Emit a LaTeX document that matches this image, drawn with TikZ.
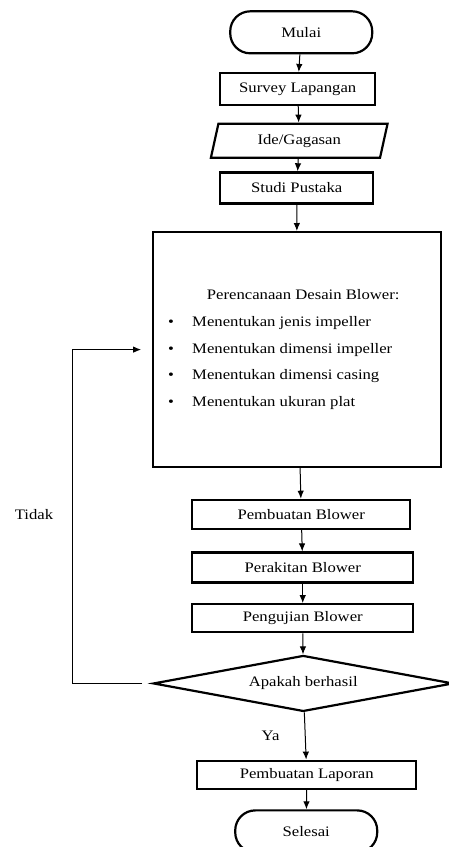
\documentclass[tikz,border=0pt]{standalone}
\usepackage{fontspec}
\setmainfont[FakeStretch=1.15]{Liberation Serif}
\usepackage{tikz}
\usetikzlibrary{matrix,arrows.meta,shapes.geometric}

\begin{document}
\begin{tikzpicture}[x=1pt,y=-1pt,font=\fontsize{14.5}{17}\selectfont,
    terminal/.style={draw,line width=2.2pt,rounded corners=20pt,minimum width=142pt,minimum height=42pt},
    process/.style={draw,line width=2.2pt,minimum width=220pt,minimum height=30pt},
    inputbox/.style={draw,line width=2.2pt,trapezium,trapezium left angle=73.6,trapezium right angle=106.4,trapezium stretches=true,minimum width=178pt,minimum height=34pt},
    decision/.style={draw,line width=2.2pt,diamond,aspect=5.3,inner sep=0pt,minimum width=300pt,minimum height=56pt},
    planbox/.style={draw,line width=2.2pt,minimum width=288pt,minimum height=235pt,inner xsep=15pt,inner ysep=0pt},
    flow/.style={-{Latex[length=8pt,width=6.5pt]},line width=1pt}]
  \useasboundingbox (0,0) rectangle (448,847);
  \matrix (m) [matrix of nodes,row sep=17.5pt,inner sep=0pt,ampersand replacement=\&,anchor=north] at (303,10)
    {
      |[terminal,xshift=1pt]| Mulai                                         \\
      |[process,minimum width=155pt,minimum height=32pt,xshift=-2.5pt]| Survey Lapangan \\[-1pt]
      |[inputbox,xshift=-1pt]| Ide/Gagasan                                 \\[-5pt]
      |[process,minimum width=153pt,minimum height=31pt,xshift=-3.5pt]| Studi Pustaka \\[9pt]
      |[planbox,xshift=-3pt]| \parbox{258pt}{\fontsize{14.5}{26.7}\selectfont
        \makebox[258pt]{\hspace{12pt}Perencanaan Desain Blower:}\par
        \makebox[24pt][l]{\textbullet}Menentukan jenis impeller\par
        \makebox[24pt][l]{\textbullet}Menentukan dimensi impeller\par
        \makebox[24pt][l]{\textbullet}Menentukan dimensi casing\par
        \makebox[24pt][l]{\textbullet}Menentukan ukuran plat}                \\[13pt]
      |[process,minimum width=218pt,minimum height=29pt,xshift=1pt]| Pembuatan Blower \\[4pt]
      |[process,minimum width=221pt,xshift=2.5pt]| Perakitan Blower         \\[2pt]
      |[process,minimum width=221pt,minimum height=28pt,xshift=2.5pt]| Pengujian Blower \\[4pt]
      |[decision,xshift=3pt]| Apakah berhasil                               \\[30pt]
      |[process,minimum width=219pt,minimum height=28pt,xshift=6.5pt]| Pembuatan Laporan \\[2pt]
      |[terminal,xshift=6pt]| Selesai                                       \\
    };
  \draw[flow] (m-1-1) -- (m-2-1);
  \draw[flow] (m-2-1) -- (m-3-1);
  \draw[flow] (m-3-1) -- (m-4-1);
  \draw[flow] (m-4-1) -- (m-5-1);
  \draw[flow] (m-5-1) -- (m-6-1);
  \draw[flow] (m-6-1) -- (m-7-1);
  \draw[flow] (m-7-1) -- (m-8-1);
  \draw[flow] (m-8-1) -- (m-9-1);
  \draw[flow] (m-9-1) -- node[left=22pt] (ya) {Ya} (m-10-1);
  \draw[flow] (m-10-1) -- (m-11-1);
  % back to the design step
  \draw[flow,shorten <=10pt,shorten >=11pt] (m-9-1.west) -- ++(-80,0) |- (m-5-1.west);
  \node (tidak) at (34,515) {Tidak};
\end{tikzpicture}
\end{document}
